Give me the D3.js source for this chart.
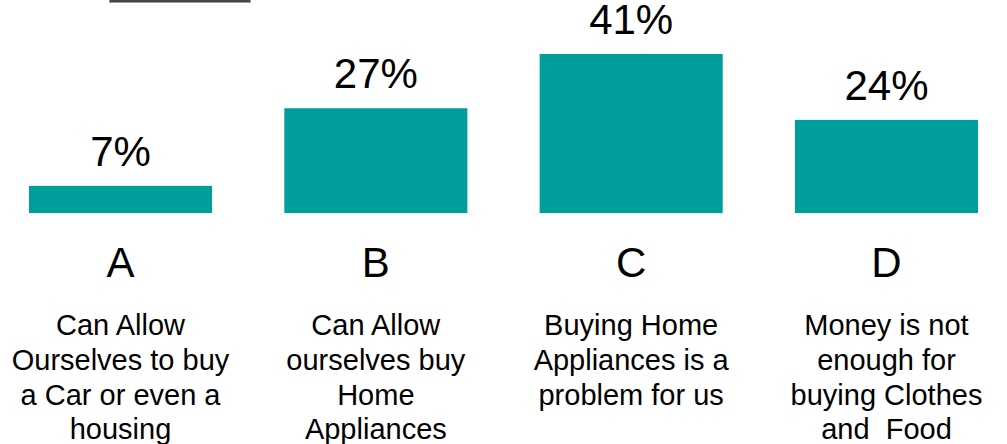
<!DOCTYPE html>
<html>
<head>
<meta charset="utf-8">
<script src="https://cdn.jsdelivr.net/npm/d3@7"></script>
<style>
  html, body { margin: 0; padding: 0; background: #fff; }
  svg { display: block; font-family: "Liberation Sans", Arial, sans-serif; }
</style>
</head>
<body>
<svg id="chart" width="1007" height="444"></svg>
<script>
const categories = ["A", "B", "C", "D"];
const values = [7, 27, 41, 24];
const valueLabels = ["7%", "27%", "41%", "24%"];
const descriptions = [
  ["Can Allow", "Ourselves to buy", "a Car or even a", "housing"],
  ["Can Allow", "ourselves buy", "Home", "Appliances"],
  ["Buying Home", "Appliances is a", "problem for us"],
  ["Money is not", "enough for", "buying Clothes", "and  Food"]
];

const svg = d3.select("#chart");
const baseY = 213;

const x = d3.scaleBand()
  .domain(categories)
  .range([-7.15, 1014.15])
  .paddingInner(0.283)
  .paddingOuter(0.1415);

const y = d3.scaleLinear()
  .domain([0, 50])
  .range([baseY, baseY - 194]);

// top decoration line
svg.append("rect")
  .attr("x", 109.5).attr("y", -1)
  .attr("width", 141).attr("height", 3.5)
  .attr("fill", "#444").attr("stroke", "#999").attr("stroke-width", 0.8);

const data = categories.map((c, i) => ({c, v: values[i], label: valueLabels[i], desc: descriptions[i]}));

svg.selectAll("rect.bar")
  .data(data)
  .join("rect")
  .attr("class", "bar")
  .attr("x", d => x(d.c))
  .attr("y", d => y(d.v))
  .attr("width", x.bandwidth())
  .attr("height", d => y(0) - y(d.v))
  .attr("fill", "#009e9b");

svg.selectAll("text.val")
  .data(data)
  .join("text")
  .attr("class", "val")
  .attr("x", d => x(d.c) + x.bandwidth() / 2)
  .attr("y", d => y(d.v) - 20)
  .attr("text-anchor", "middle")
  .attr("font-size", 42)
  .attr("fill", "#000")
  .text(d => d.label);

svg.selectAll("text.cat")
  .data(data)
  .join("text")
  .attr("class", "cat")
  .attr("x", d => x(d.c) + x.bandwidth() / 2)
  .attr("y", 277)
  .attr("text-anchor", "middle")
  .attr("font-size", 42)
  .attr("fill", "#000")
  .text(d => d.c);

const desc = svg.selectAll("text.desc")
  .data(data)
  .join("text")
  .attr("class", "desc")
  .attr("text-anchor", "middle")
  .attr("font-size", 29)
  .attr("fill", "#000")
  .attr("xml:space", "preserve")
  .style("white-space", "pre");

desc.selectAll("tspan")
  .data(d => d.desc.map(line => ({line, cx: x(d.c) + x.bandwidth() / 2})))
  .join("tspan")
  .attr("x", d => d.cx)
  .attr("y", (d, i) => 335 + i * 34.8)
  .text(d => d.line);
</script>
</body>
</html>
